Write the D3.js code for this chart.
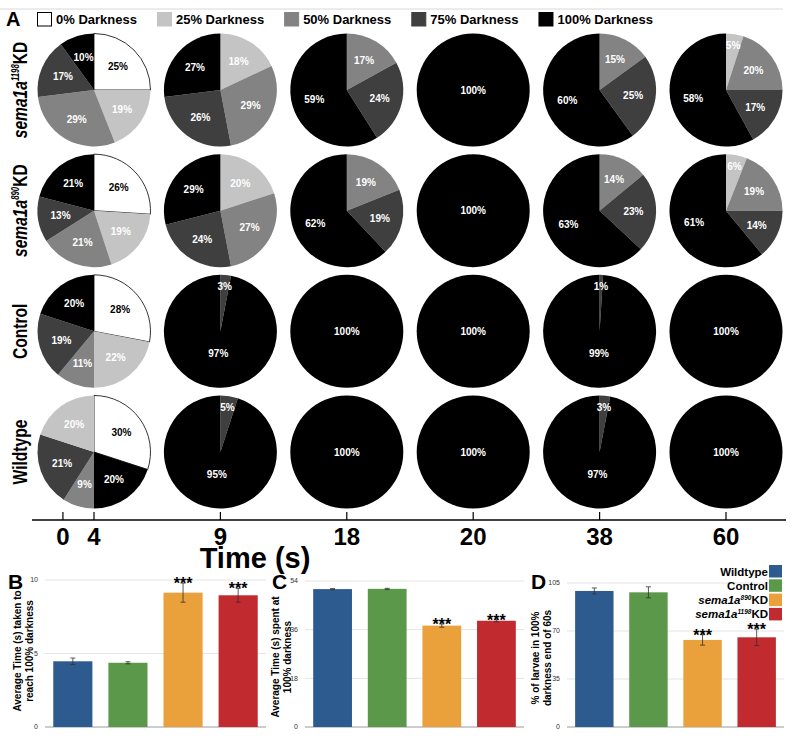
<!DOCTYPE html>
<html><head><meta charset="utf-8">
<script src="https://cdn.jsdelivr.net/npm/d3@7/dist/d3.min.js"></script>
<style>
html,body{margin:0;padding:0;background:#fff;}
text{font-family:"Liberation Sans",Arial,Helvetica,sans-serif;}
</style></head>
<body>
<svg id="chart" width="800" height="738"></svg>
<script>
// ---------- DATA ----------
const levels = ["0% Darkness","25% Darkness","50% Darkness","75% Darkness","100% Darkness"];
const levelColors = ["#ffffff","#c4c4c4","#838383","#3f3f3f","#000000"];
const groups = ["sema1a1198KD","sema1a890KD","Control","Wildtype"];
const pieTimes = ["4","9","18","20","38","60"];
const axisTicks = ["0","4","9","18","20","38","60"];
// values per pie in level order [0%,25%,50%,75%,100%]
const sema1198Pies = [[25,19,29,17,10],[0,18,29,26,27],[0,0,17,24,59],[0,0,0,0,100],[0,0,15,25,60],[0,5,20,17,58]];
const sema890Pies  = [[26,19,21,13,21],[0,20,27,24,29],[0,0,19,19,62],[0,0,0,0,100],[0,0,14,23,63],[0,6,19,14,61]];
const controlPies  = [[28,22,11,19,20],[0,0,0,3,97],[0,0,0,0,100],[0,0,0,0,100],[0,0,0,1,99],[0,0,0,0,100]];
const wildtypePies = [[30,20,9,21,20],[0,0,0,5,95],[0,0,0,0,100],[0,0,0,0,100],[0,0,0,3,97],[0,0,0,0,100]];
const defaultSliceOrder = [0,1,2,3,4];
const wildtypeFirstSliceOrder = [0,4,2,3,1];

const barGroups = ["Wildtype","Control","sema1a890KD","sema1a1198KD"];
const barColors = ["#2d5b8f","#5c9849","#eaa13c","#c12a2f"];
const timeToDarkMean = [4.47,4.37,9.14,8.96];
const timeToDarkErr  = [0.22,0.07,0.65,0.47];
const timeInDarkMean = [51.0,51.1,37.5,39.3];
const timeInDarkErr  = [0.2,0.2,0.6,0.4];
const pctDarkMean    = [99.2,98.2,63.5,65.4];
const pctDarkErr     = [2.2,4.0,3.8,6.0];
const significance   = ["","","***","***"];
const ticksB = [0,5,10], ticksC = [0,18,36,54], ticksD = [0,35,70,105];

// ---------- DRAW ----------
const svg = d3.select("#chart");

// thin top rule
svg.append("line").attr("x1",0).attr("x2",783).attr("y1",9).attr("y2",9)
  .attr("stroke","#d8d8d8").attr("stroke-width",1);

// panel letter A
svg.append("text").attr("x",6).attr("y",26).attr("font-size",20).attr("font-weight","bold").text("A");

// legend A
let lx = 37;
levels.forEach((lab,i)=>{
  const g = svg.append("g");
  g.append("rect").attr("x",lx+0.5).attr("y",12.5).attr("width",14).attr("height",13.5)
    .attr("fill",levelColors[i]).attr("stroke", i===0?"#000":levelColors[i]).attr("stroke-width",1);
  const t = g.append("text").attr("x",lx+19).attr("y",24).attr("font-size",13).attr("font-weight","bold").text(lab);
  lx += 19 + t.node().getComputedTextLength() + 20;
});

const r = 56.5;
const xPie = d3.scalePoint().domain(pieTimes).range([94,726]);
const yRow = d3.scalePoint().domain(groups).range([90,452]);
const allPies = [sema1198Pies, sema890Pies, controlPies, wildtypePies];
const arc = d3.arc().innerRadius(0).outerRadius(r);
const pie = d3.pie().sort(null).value(d=>d.v);

function labelFactor(v){
  if (v >= 100) return 0;
  if (v > 90) return 0.4;
  if (v < 7) return 0.8;
  return 0.6;
}

allPies.forEach((rowData, ri)=>{
  rowData.forEach((vals, ti)=>{
    const order = (ri===3 && ti===0) ? wildtypeFirstSliceOrder : defaultSliceOrder;
    const slices = order.map(k=>({k, v: vals[k]})).filter(d=>d.v>0);
    const g = svg.append("g").attr("transform",`translate(${xPie(pieTimes[ti])},${yRow(groups[ri])})`);
    const arcs = pie(slices);
    g.selectAll("path").data(arcs).enter().append("path")
      .attr("d",arc)
      .attr("fill",d=>levelColors[d.data.k])
      .attr("stroke",d=>d.data.k===0?"#000":"none")
      .attr("stroke-width",0.8);
    g.selectAll("text").data(arcs).enter().append("text")
      .attr("x",d=>{const a=(d.startAngle+d.endAngle)/2; return Math.sin(a)*r*labelFactor(d.data.v);})
      .attr("y",d=>{const a=(d.startAngle+d.endAngle)/2; return -Math.cos(a)*r*labelFactor(d.data.v);})
      .attr("dy","0.35em").attr("text-anchor","middle")
      .attr("font-size",10).attr("font-weight","bold")
      .attr("fill",d=>d.data.k===0?"#000":"#fff")
      .text(d=>d.data.v+"%");
  });
});

// rich label helper: italic "sema1a" + superscript number + "KD"
function richLabel(sel, name, supSize, supShift){
  const m = name.match(/^(sema1a)(\d+)(KD)$/);
  if (m){
    sel.append("tspan").attr("font-style","italic").text(m[1]);
    sel.append("tspan").attr("font-style","italic").attr("font-size",supSize).attr("dy",-supShift).text(m[2]);
    sel.append("tspan").attr("dy",supShift).text(m[3]);
  } else sel.text(name);
}
// row labels (condensed bold, rotated)
groups.forEach(gname=>{
  const g = svg.append("g").attr("transform",`translate(27,${yRow(gname)}) rotate(-90) scale(0.78,1)`);
  const t = g.append("text").attr("text-anchor","middle").attr("font-size",20).attr("font-weight","bold");
  richLabel(t, gname, 10, 8);
});

// time axis
const axisY = 520;
const tickX = t => t==="0" ? xPie("4") - r*0.55 : xPie(t);
svg.append("line").attr("x1",32).attr("x2",786).attr("y1",axisY).attr("y2",axisY).attr("stroke","#000").attr("stroke-width",1.5);
axisTicks.forEach(t=>{
  svg.append("line").attr("x1",tickX(t)).attr("x2",tickX(t)).attr("y1",axisY-8).attr("y2",axisY).attr("stroke","#000").attr("stroke-width",1.2);
  svg.append("text").attr("x",tickX(t)).attr("y",545).attr("text-anchor","middle")
    .attr("font-size",24).attr("font-weight","bold").text(t);
});
svg.append("text").attr("x",255).attr("y",568).attr("text-anchor","middle")
  .attr("font-size",29).attr("font-weight","bold").text("Time (s)");

// ---------- bar panels ----------
function barPanel(opt){
  const x = d3.scaleBand().domain(barGroups).range(opt.xr).paddingInner(0.29).paddingOuter(0.15);
  const y = d3.scaleLinear().domain([0, opt.max]).range([727, opt.top]);
  const g = svg.append("g");
  opt.ticks.forEach(tv=>{
    g.append("line").attr("x1",opt.xr[0]).attr("x2",opt.xr[1]).attr("y1",y(tv)).attr("y2",y(tv))
      .attr("stroke", tv===0 ? "#9a9a9a" : "#e4e4e4").attr("stroke-width",1);
    g.append("text").attr("x",opt.xr[0]-7).attr("y",y(tv)).attr("dy","0.35em").attr("text-anchor","end")
      .attr("font-size",7).attr("fill","#333").text(tv);
  });
  g.selectAll("rect.bar").data(opt.mean).enter().append("rect")
    .attr("x",(d,i)=>x(barGroups[i])).attr("width",x.bandwidth())
    .attr("y",d=>y(d)).attr("height",d=>y(0)-y(d))
    .attr("fill",(d,i)=>barColors[i]);
  opt.mean.forEach((m,i)=>{
    const cx = x(barGroups[i]) + x.bandwidth()/2;
    const e = opt.err[i];
    g.append("line").attr("x1",cx).attr("x2",cx).attr("y1",y(m+e)).attr("y2",y(m-e)).attr("stroke","#333").attr("stroke-width",1).attr("opacity",0.8);
    [m+e, m-e].forEach(v=>g.append("line").attr("x1",cx-2.5).attr("x2",cx+2.5).attr("y1",y(v)).attr("y2",y(v)).attr("stroke","#333").attr("stroke-width",1).attr("opacity",0.8));
    if (significance[i]) g.append("text").attr("x",cx).attr("y",y(m+e)+6).attr("text-anchor","middle")
      .attr("font-size",16).attr("font-weight","bold").text(significance[i]);
  });
  const lg = g.append("g").attr("transform",`translate(${opt.labX},${opt.labY}) rotate(-90)`);
  opt.label.forEach((line,li)=>{
    lg.append("text").attr("x",0).attr("y",li*12).attr("text-anchor","middle")
      .attr("font-size",10).attr("font-weight","bold").text(line);
  });
  svg.append("text").attr("x",opt.letterX).attr("y",589).attr("font-size",21).attr("font-weight","bold").text(opt.letter);
}

barPanel({letter:"B", letterX:8, xr:[45,266], max:10, top:580, ticks:ticksB, mean:timeToDarkMean, err:timeToDarkErr,
  label:["Average Time (s) taken to","reach 100% darkness"], labX:21, labY:651});
barPanel({letter:"C", letterX:272, xr:[305,524], max:54, top:581, ticks:ticksC, mean:timeInDarkMean, err:timeInDarkErr,
  label:["Average Time (s) spent at","100% darkness"], labX:279, labY:657});
barPanel({letter:"D", letterX:531, xr:[567,784], max:105, top:583, ticks:ticksD, mean:pctDarkMean, err:pctDarkErr,
  label:["% of larvae in 100%","darkness end of 60s"], labX:539, labY:658});

// legend D
barGroups.forEach((name,i)=>{
  const yTop = 565 + i*14.3;
  svg.append("rect").attr("x",769).attr("y",yTop).attr("width",13).attr("height",12.5).attr("fill",barColors[i]);
  const t = svg.append("text").attr("x",768).attr("y",yTop+10.5).attr("text-anchor","end")
    .attr("font-size",11.5).attr("font-weight","bold");
  richLabel(t, name, 6.5, 4);
});
</script>
</body></html>
